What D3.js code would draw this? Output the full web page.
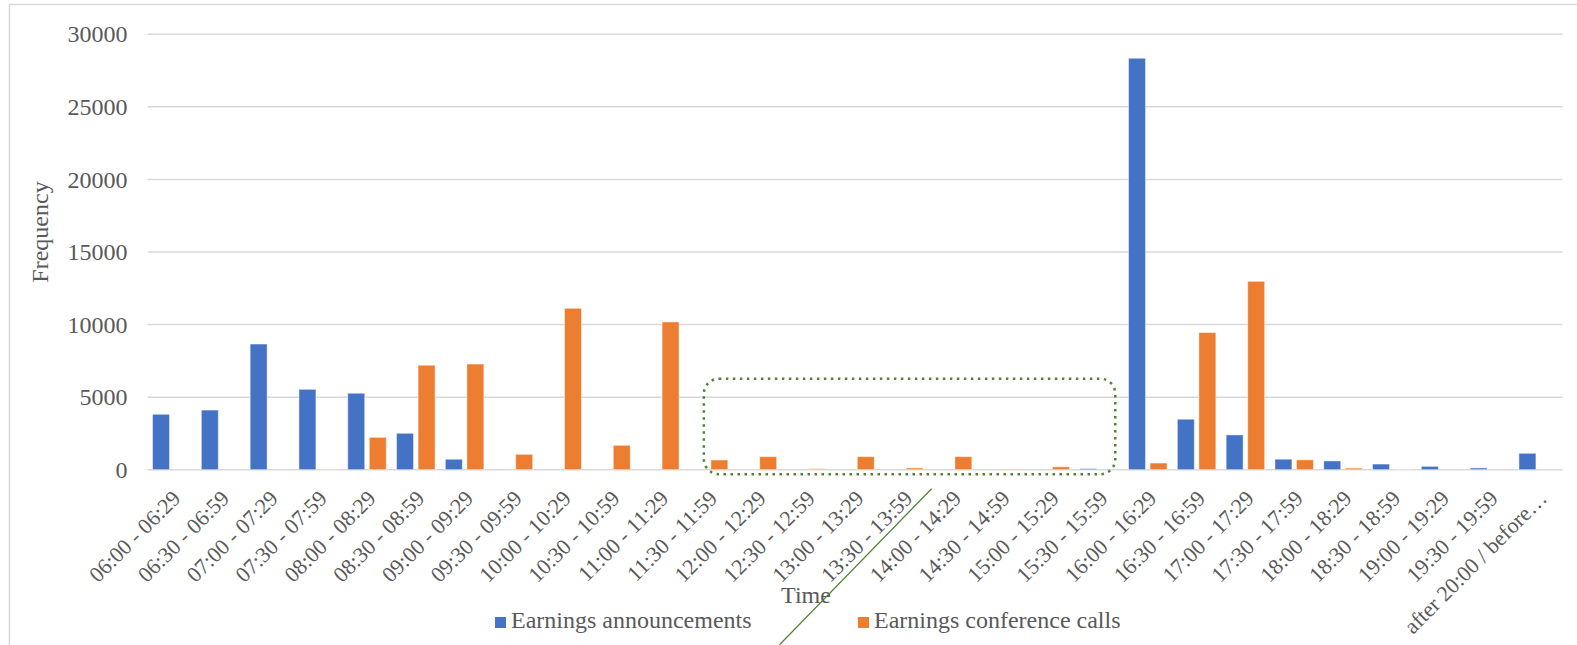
<!DOCTYPE html>
<html>
<head>
<meta charset="utf-8">
<script src="https://cdn.jsdelivr.net/npm/d3@7"></script>
<style>
  body { margin: 0; background: #fff; }
  text { font-family: "Liberation Serif", "Times New Roman", serif; fill: #595959; }
</style>
</head>
<body>
<div id="chart"></div>
<script>
// time slots (x axis)
var categories = ["06:00 - 06:29", "06:30 - 06:59", "07:00 - 07:29", "07:30 - 07:59",
  "08:00 - 08:29", "08:30 - 08:59", "09:00 - 09:29", "09:30 - 09:59", "10:00 - 10:29",
  "10:30 - 10:59", "11:00 - 11:29", "11:30 - 11:59", "12:00 - 12:29", "12:30 - 12:59",
  "13:00 - 13:29", "13:30 - 13:59", "14:00 - 14:29", "14:30 - 14:59", "15:00 - 15:29",
  "15:30 - 15:59", "16:00 - 16:29", "16:30 - 16:59", "17:00 - 17:29", "17:30 - 17:59",
  "18:00 - 18:29", "18:30 - 18:59", "19:00 - 19:29", "19:30 - 19:59", "after 20:00 / before…"];

var announcements = [3820, 4110, 8660, 5540, 5270, 2510, 720, 30, 30, 0, 0, 0, 20, 0,
  0, 0, 0, 0, 0, 80, 28350, 3480, 2400, 725, 605, 390, 230, 120, 1130];

var calls = [0, 0, 0, 30, 2230, 7200, 7280, 1060, 11120, 1680, 10180, 670, 900, 70,
  900, 120, 900, 40, 200, 0, 460, 9450, 12980, 680, 110, 15, 0, 0, 0];

var seriesNames = ["Earnings announcements", "Earnings conference calls"];
var yTicks = [0, 5000, 10000, 15000, 20000, 25000, 30000];

var colors = { "Earnings announcements": "#4472C4", "Earnings conference calls": "#ED7D31" };

var W = 1577, H = 645;
var margin = { left: 147.4, right: 14.4, top: 34.3, bottom: 175.3 };
var width = W - margin.left - margin.right,
    height = H - margin.top - margin.bottom;

var data = categories.map(function(c, i) {
  return { cat: c, values: [announcements[i], calls[i]] };
});

var svg = d3.select("#chart").append("svg")
    .attr("width", W)
    .attr("height", H);

// outer chart border
svg.append("rect")
    .attr("x", 9.5).attr("y", 4.5)
    .attr("width", W).attr("height", H)
    .attr("fill", "none")
    .attr("stroke", "#d9d9d9")
    .attr("stroke-width", 1.5);

var g = svg.append("g")
    .attr("transform", "translate(" + margin.left + "," + margin.top + ")");

var x0 = d3.scaleBand()
    .domain(categories)
    .range([0, width])
    .paddingInner(0.21)
    .paddingOuter(0.105);

var x1 = d3.scaleBand()
    .domain(seriesNames)
    .range([0, x0.bandwidth()])
    .paddingInner(0.21);

var y = d3.scaleLinear()
    .domain([0, 30000])
    .range([height, 0]);

// gridlines
g.selectAll(".grid")
    .data(yTicks)
  .enter().append("line")
    .attr("class", "grid")
    .attr("x1", 0).attr("x2", width)
    .attr("y1", function(d) { return y(d); })
    .attr("y2", function(d) { return y(d); })
    .attr("stroke", "#d9d9d9")
    .attr("stroke-width", 1.5);

// y axis labels
var yAxis = d3.axisLeft(y).tickValues(yTicks).tickFormat(d3.format("d")).tickSize(0).tickPadding(20);
g.append("g")
    .call(yAxis)
    .call(function(a) { a.select(".domain").remove(); })
    .selectAll("text")
    .style("font-size", "24px")
    .attr("fill", "#595959")
    .attr("font-family", "Liberation Serif");

// bars
var groups = g.selectAll(".slot")
    .data(data)
  .enter().append("g")
    .attr("class", "slot")
    .attr("transform", function(d) { return "translate(" + x0(d.cat) + ",0)"; });

groups.selectAll("rect")
    .data(function(d) { return d.values.map(function(v, i) { return { key: seriesNames[i], value: v }; }); })
  .enter().append("rect")
    .attr("x", function(d) { return x1(d.key); })
    .attr("y", function(d) { return y(d.value); })
    .attr("width", x1.bandwidth())
    .attr("height", function(d) { return height - y(d.value); })
    .attr("fill", function(d) { return colors[d.key]; })
    .attr("stroke", "#fff")
    .attr("stroke-opacity", 0.5)
    .attr("stroke-width", 1);

// x axis labels, rotated
var xAxis = d3.axisBottom(x0).tickSize(0).tickPadding(0);
g.append("g")
    .attr("transform", "translate(0," + height + ")")
    .call(xAxis)
    .call(function(a) { a.select(".domain").remove(); })
    .selectAll("text")
    .style("font-size", "22px")
    .attr("font-family", "Liberation Serif")
    .attr("fill", "#595959")
    .attr("text-anchor", "end")
    .attr("dy", 0)
    .attr("y", 0)
    .attr("transform", "translate(10,30) rotate(-45)");

// axis titles
g.append("text")
    .attr("transform", "translate(" + (-margin.left + 48) + "," + (height / 2 - 20) + ") rotate(-90)")
    .attr("text-anchor", "middle")
    .style("font-size", "24px")
    .text("Frequency");

g.append("text")
    .attr("x", width / 2 - 49)
    .attr("y", height + 133)
    .attr("text-anchor", "middle")
    .style("font-size", "24px")
    .text("Time");

// dotted highlight around the midday slots
var boxL = x0(categories[11]) + x1(seriesNames[1]) - 7,
    boxR = x0(categories[19]) + x0.bandwidth() - 3;
g.append("rect")
    .attr("x", boxL)
    .attr("y", y(6270))
    .attr("width", boxR - boxL)
    .attr("height", height + 4.5 - y(6270))
    .attr("rx", 15).attr("ry", 15)
    .attr("fill", "none")
    .attr("stroke", "#548235")
    .attr("stroke-width", 2.5)
    .attr("stroke-dasharray", "2.5,4.5");

// green annotation line
var lx = x0(categories[16]) + x0.bandwidth() / 2 - 21;
g.append("line")
    .attr("x1", lx).attr("y1", height + 19)
    .attr("x2", lx - 152).attr("y2", height + 175)
    .attr("stroke", "#548235")
    .attr("stroke-width", 1.3);

// legend
var legend = svg.append("g")
    .attr("transform", "translate(495,617)");
var legX = [0, 363];
var item = legend.selectAll(".legend")
    .data(seriesNames)
  .enter().append("g")
    .attr("class", "legend")
    .attr("transform", function(d, i) { return "translate(" + legX[i] + ",0)"; });
item.append("rect")
    .attr("width", 11).attr("height", 11)
    .attr("fill", function(d) { return colors[d]; });
item.append("text")
    .attr("x", 16)
    .attr("y", 11)
    .style("font-size", "24px")
    .text(function(d) { return d; });
</script>
</body>
</html>
